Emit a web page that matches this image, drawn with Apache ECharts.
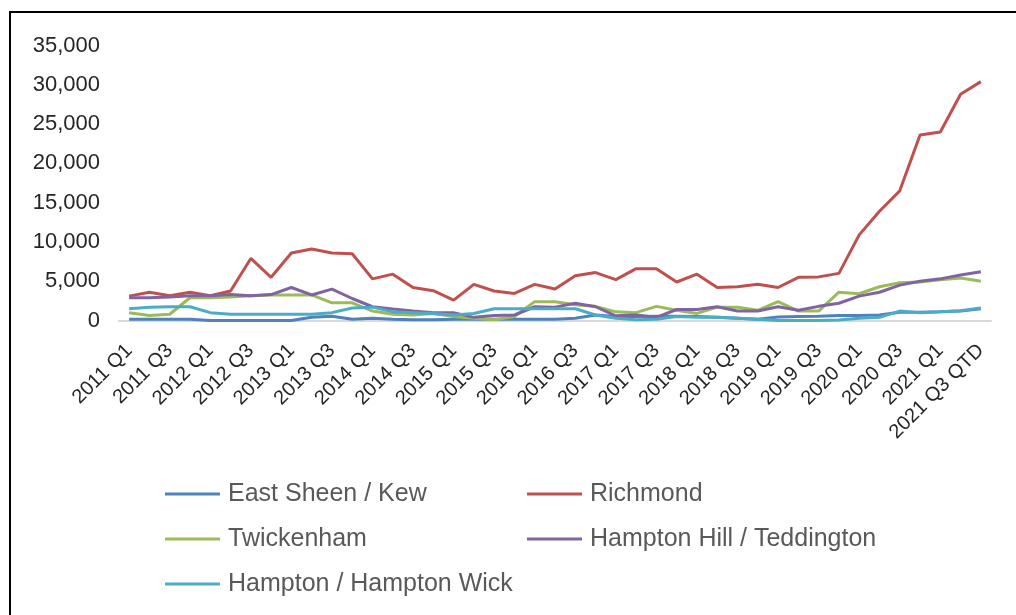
<!DOCTYPE html>
<html>
<head>
<meta charset="utf-8">
<script src="https://cdn.jsdelivr.net/npm/echarts@6/dist/echarts.min.js"></script>
<style>
  html, body { margin: 0; padding: 0; background: #ffffff; }
  #chart { width: 1016px; height: 615px; }
</style>
</head>
<body>
<div id="chart"></div>
<script>
// Quarterly periods, 2011 Q1 to 2021 Q3 (quarter to date)
const years = [2011, 2012, 2013, 2014, 2015, 2016, 2017, 2018, 2019, 2020, 2021];
const quarters = [];
years.forEach(function (y) {
  ['Q1', 'Q2', 'Q3', 'Q4'].forEach(function (q) { quarters.push(y + ' ' + q); });
});
const categories = quarters.slice(0, 42).concat(['2021 Q3 QTD']);

// Series values per area
const eastSheenKew = [150, 150, 150, 150, 0, 0, 0, 0, 0, 400, 550, 150, 300, 150, 100, 100, 150, 150, 150, 150,
  150, 150, 300, 700, 500, 500, 550, 550, 500, 400, 300, 150, 450, 500, 550, 650, 650, 700, 1050, 1050,
  1100, 1200, 1500];
const richmond = [3100, 3600, 3150, 3600, 3150, 3750, 7900, 5500, 8600, 9100, 8600, 8500, 5300, 5900, 4200, 3800, 2600, 4600, 3750, 3450,
  4600, 4000, 5700, 6100, 5200, 6600, 6600, 4900, 5900, 4200, 4300, 4600, 4200, 5500, 5550, 6000, 10900, 13900, 16500, 23600,
  24000, 28800, 30400];
const twickenham = [1000, 650, 800, 2900, 2900, 3000, 3150, 3250, 3250, 3250, 2250, 2250, 1200, 800, 700, 900, 500, 300, 100, 500,
  2400, 2400, 2000, 1800, 1100, 1000, 1800, 1300, 900, 1700, 1700, 1300, 2400, 1200, 1200, 3600, 3400, 4300, 4800, 4900,
  5200, 5400, 5000];
const hamptonHillTeddington = [2900, 2900, 3000, 3150, 3150, 3300, 3150, 3300, 4200, 3250, 4000, 2800, 1750, 1450, 1200, 1000, 1000, 400, 650, 700,
  1750, 1700, 2200, 1750, 600, 700, 400, 1400, 1400, 1750, 1200, 1200, 1750, 1300, 1800, 2200, 3100, 3600, 4500, 5000,
  5300, 5800, 6200];
const hamptonWick = [1500, 1700, 1750, 1750, 1000, 800, 800, 800, 800, 800, 1000, 1600, 1700, 1100, 1000, 900, 700, 900, 1500, 1500,
  1500, 1500, 1500, 700, 300, 100, 150, 500, 400, 400, 300, 150, 0, 0, 0, 50, 300, 400, 1200, 1000,
  1100, 1250, 1600];

// Value axis ticks
const yTicks = [0, 5000, 10000, 15000, 20000, 25000, 30000, 35000];

const FONT = "'Liberation Sans', Arial, sans-serif";

const seriesDefs = [
  { name: 'East Sheen / Kew', data: eastSheenKew, color: '#4F81BD' },
  { name: 'Richmond', data: richmond, color: '#C0504D' },
  { name: 'Twickenham', data: twickenham, color: '#9BBB59' },
  { name: 'Hampton Hill / Teddington', data: hamptonHillTeddington, color: '#8064A2' },
  { name: 'Hampton / Hampton Wick', data: hamptonWick, color: '#4BACC6' }
];

const legendCommon = {
  orient: 'vertical',
  top: 476,
  icon: 'rect',
  itemWidth: 55,
  itemHeight: 3,
  itemGap: 19,
  selectedMode: false,
  textStyle: {
    fontFamily: FONT,
    fontSize: 25,
    lineHeight: 26,
    color: '#595959',
    padding: [0, 0, 0, 3]
  }
};

const chart = echarts.init(document.getElementById('chart'), null, { renderer: 'canvas' });

chart.setOption({
  animation: false,
  backgroundColor: '#ffffff',
  graphic: [{
    type: 'rect',
    shape: { x: 10, y: 12, width: 1100, height: 700 },
    style: { fill: 'none', stroke: '#000000', lineWidth: 2 },
    silent: true
  }],
  grid: { left: 119, right: 25, top: 45.5, height: 275, containLabel: false },
  legend: [
    Object.assign({}, legendCommon, {
      left: 160,
      data: ['East Sheen / Kew', 'Twickenham', 'Hampton / Hampton Wick']
    }),
    Object.assign({}, legendCommon, {
      left: 522,
      data: ['Richmond', 'Hampton Hill / Teddington']
    })
  ],
  xAxis: {
    type: 'category',
    data: categories,
    boundaryGap: true,
    axisLine: { show: true, lineStyle: { color: '#D9D9D9', width: 2 } },
    axisTick: { show: false },
    splitLine: { show: false },
    axisLabel: {
      interval: 1,
      rotate: 45,
      margin: 27,
      fontFamily: FONT,
      fontSize: 20,
      color: '#262626'
    }
  },
  yAxis: {
    type: 'value',
    min: yTicks[0],
    max: yTicks[yTicks.length - 1],
    interval: yTicks[1] - yTicks[0],
    axisLine: { show: false },
    axisTick: { show: false },
    splitLine: { show: false },
    axisLabel: {
      margin: 19,
      fontFamily: FONT,
      fontSize: 22,
      color: '#262626',
      formatter: function (v) { return v.toLocaleString('en-US'); }
    }
  },
  series: seriesDefs.map(function (s) {
    return {
      name: s.name,
      type: 'line',
      data: s.data,
      symbol: 'none',
      smooth: false,
      color: s.color,
      lineStyle: { color: s.color, width: 3 }
    };
  })
});
</script>
</body>
</html>
